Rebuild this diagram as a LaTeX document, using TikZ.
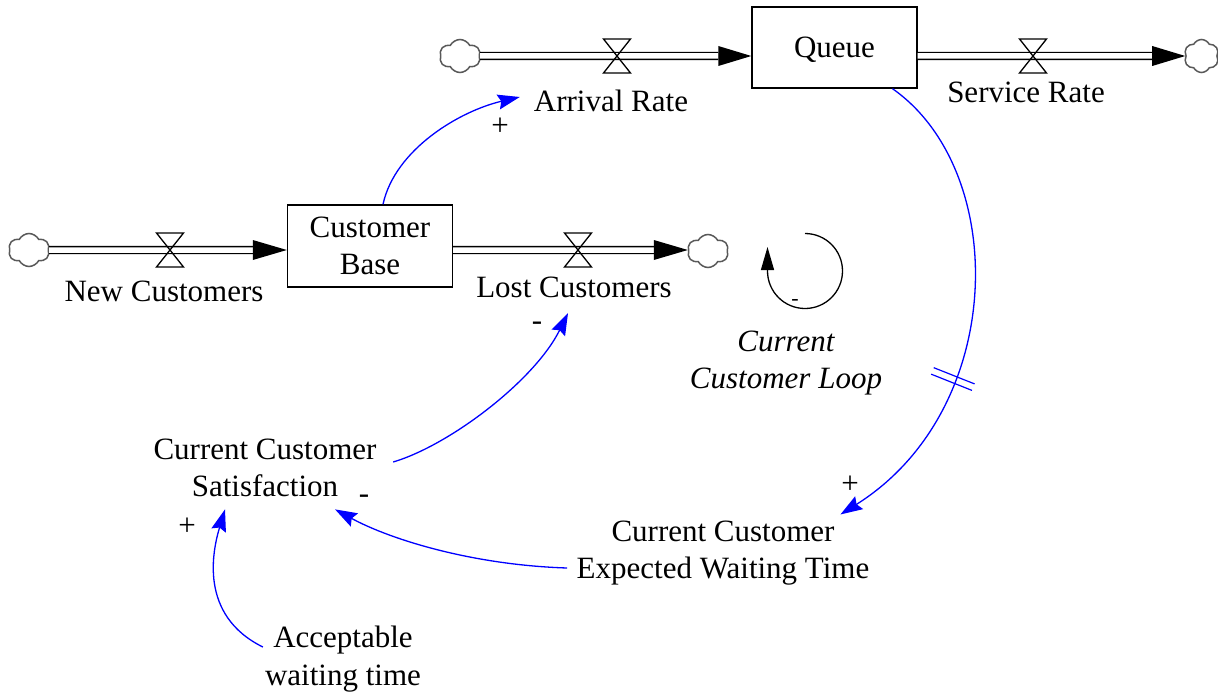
\documentclass[tikz,border=0pt]{standalone}
\usepackage{fontspec}
\setmainfont{Liberation Serif}
\usetikzlibrary{arrows.meta,shapes.symbols,calc,decorations.markings}
\begin{document}
\begin{tikzpicture}[x=1pt,y=-1pt,
  txt/.style={font=\fontsize{31}{37.5}\selectfont, inner sep=0pt, align=center},
  stock/.style={txt, draw, line width=1.4pt, minimum width=165pt, minimum height=81pt},
  pipe/.style={draw, line width=1.4pt, double distance=5.5pt},
  link/.style={draw=blue, line width=1.3pt, -{Stealth[length=22pt,width=15pt,inset=3pt]}},
  cloudnode/.style={cloud, cloud puffs=6, cloud puff arc=125, cloud ignores aspect, draw=black!65, line width=1.5pt, minimum width=41pt, minimum height=33pt, inner sep=0pt},
  pol/.style={font=\fontsize{31}{36}\selectfont, inner sep=0pt},
  valve/.pic={\draw[line width=1.3pt, line join=miter] (-13.5,-17) -- (13.5,-17) -- (-13.5,17) -- (13.5,17) -- cycle;}
]
\useasboundingbox (0,0) rectangle (1218,693);

% stocks
\node[stock, text height=21pt, text depth=0pt] (queue) at (834.5,47.5) {Queue};
\node[stock, minimum height=82pt] (cb) at (370,246) {Customer\\Base};

% clouds
\node[cloudnode] (c1) at (460,56) {};
\node[cloudnode, minimum width=35pt] (c2) at (1201.5,56) {};
\node[cloudnode] (c3) at (29,250) {};
\node[cloudnode] (c4) at (708,251) {};

% flow end coordinates
\coordinate (qin) at ($(queue.west)+(0,8.5)$);
\coordinate (qout) at ($(queue.east)+(0,8.5)$);
\coordinate (cbin) at ($(cb.west)+(0,4)$);
\coordinate (cbout) at ($(cb.east)+(0,4)$);
\coordinate (srend) at (c2.west);
\coordinate (lcend) at ($(c4.west)+(0,-1)$);

% pipes
\draw[pipe] (c1.east) -- ($(qin)+(-33,0)$);
\fill ($(qin)+(-33,-10)$) -- (qin) -- ($(qin)+(-33,10)$) -- cycle;
\draw[pipe] (qout) -- ($(srend)+(-33,0)$);
\fill ($(srend)+(-33,-10)$) -- (srend) -- ($(srend)+(-33,10)$) -- cycle;
\draw[pipe] (c3.east) -- ($(cbin)+(-34,0)$);
\fill ($(cbin)+(-34,-10)$) -- (cbin) -- ($(cbin)+(-34,10)$) -- cycle;
\draw[pipe] (cbout) -- ($(lcend)+(-34,0)$);
\fill ($(lcend)+(-34,-10)$) -- (lcend) -- ($(lcend)+(-34,10)$) -- cycle;

% valves
\pic at (617,56) {valve};
\pic at (1033,56) {valve};
\pic at (170,250) {valve};
\pic at (578,250) {valve};

% flow labels
\node[txt] (ar) at (611,101) {Arrival Rate};
\node[txt] (sr) at (1026,92) {Service Rate};
\node[txt] (nc) at (164,291) {New Customers};
\node[txt] (lc) at (574,287.5) {Lost Customers};

% auxiliaries
\node[txt] (ccs) at (265,468) {Current Customer\\Satisfaction};
\node[txt] (cewt) at (723,553) {Current Customer\\Expected Waiting Time};
\node[txt] (awt) at (343,659) {Acceptable\\waiting time};

% loop
\coordinate (lc0) at (805,271);
\draw[line width=1.3pt, -{Triangle[length=23pt,width=13pt]}] ($(lc0)+(0,-37.5)$) arc[start angle=-90, end angle=180, radius=37.5] -- ++(0,-24);
\node[pol, font=\fontsize{22}{26}\selectfont] (lm) at (795,302) {-};
\node[txt, font=\fontsize{31}{37.5}\selectfont\itshape] (ll) at (786,363) {Current\\Customer Loop};

% links
\draw[link] ($(cb.north)+(13,0)$) .. controls +(12,-55) and +(-60,14) .. ($(ar.west)+(-14,-4)$);
\draw[link, postaction={decorate, decoration={markings, mark=at position 0.64 with {\draw[blue, line width=1.2pt, -] (-3.5pt,-22pt) -- (-3.5pt,22pt) (3.5pt,-22pt) -- (3.5pt,22pt);}}}]
  ($(queue.south)+(58,0)$) .. controls +(117,82) and +(167,-105) .. ($(cewt.north east)+(-29,-6)$);
\draw[link] ($(ccs.east)+(16.5,-6)$) .. controls +(57,-17) and +(-33,67) .. ($(lc.south)+(-6,15)$);
\draw[link] ($(cewt.west)+(-9.5,15)$) .. controls +(-95,-3) and +(55,30) .. ($(ccs.south)+(70,12)$);
\draw[link] ($(awt.west)+(-2,-12)$) .. controls +(-65,-32) and +(-12,40) .. ($(ccs.south)+(-40,12)$);

% polarities
\node[pol] (p1) at (500,127) {+};
\node[pol] (p2) at (850,485) {+};
\node[pol] (m1) at (537,326) {-};
\node[pol] (m2) at (364,499) {-};
\node[pol] (p3) at (187,527) {+};
\end{tikzpicture}
\end{document}
